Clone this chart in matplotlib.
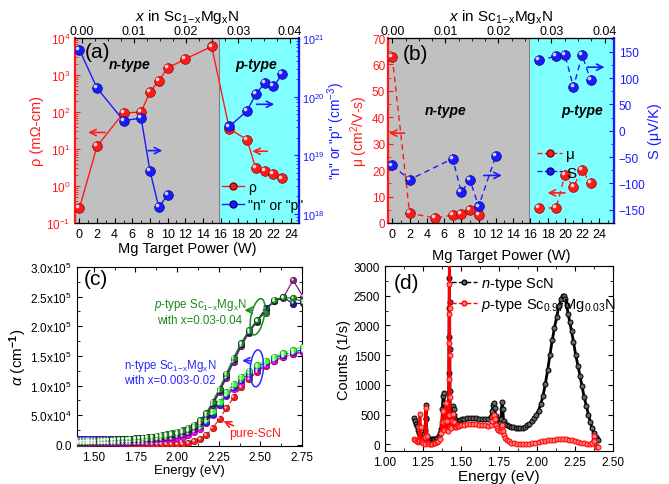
import matplotlib
matplotlib.use("Agg")
import matplotlib.pyplot as plt
import matplotlib.transforms as mtransforms
from matplotlib.colors import to_rgb
from matplotlib.lines import Line2D
from matplotlib.patches import Ellipse
from matplotlib.ticker import MultipleLocator, FixedLocator, FormatStrFormatter

plt.rcParams['font.family'] = ['Liberation Sans', 'DejaVu Sans']
plt.rcParams['mathtext.fontset'] = 'custom'
plt.rcParams['mathtext.rm'] = 'Liberation Sans'
plt.rcParams['mathtext.it'] = 'Liberation Sans:italic'
plt.rcParams['mathtext.bf'] = 'Liberation Sans:bold'
plt.rcParams['xtick.direction'] = 'in'
plt.rcParams['ytick.direction'] = 'in'
plt.rcParams['xtick.labelsize'] = 8.5
plt.rcParams['ytick.labelsize'] = 8.5

# ---- (a) resistivity and carrier density vs Mg target power
power_rho = [0, 2, 5, 7, 8, 9, 10, 12, 15, 17, 19, 20, 21, 22, 23]
rho = [0.25, 12, 94, 100, 350, 700, 1550, 2700, 5900, 35, 18, 3.0, 2.6, 2.1, 1.6]
power_n_lo = [0, 2, 5, 7, 8, 9, 10]
carrier_lo = [6.3e20, 1.4e20, 3.9e19, 4.3e19, 5.4e18, 1.3e18, 2.1e18]
power_n_hi = [17, 19, 20, 21, 22, 23]
carrier_hi = [3.1e19, 5.7e19, 1.1e20, 1.7e20, 1.5e20, 2.4e20]

# ---- (b) mobility and Seebeck coefficient
power_mu_lo = [0, 2, 5, 7, 8, 9, 10]
mu_lo = [62.7, 3.7, 1.9, 3.0, 3.4, 4.8, 3.0]
power_mu_hi = [17, 19, 20, 21, 22, 23]
mu_hi = [5.7, 5.7, 18.0, 13.7, 20.1, 15.0]
power_S_lo = [0, 2, 7, 8, 9, 10, 12]
S_lo = [-66, -93, -53, -117, -93, -144, -48]
power_S_hi = [17, 19, 20, 21, 22, 23]
S_hi = [134, 142, 145, 83, 144, 96]

x_ticks = [0.00, 0.01, 0.02, 0.03, 0.04]

# ---- (c) absorption coefficient, values in 1e4 cm^-1
energy_abs = [1.393, 1.409, 1.425, 1.442, 1.459, 1.476, 1.494, 1.512, 1.531, 1.550,
              1.570, 1.590, 1.610, 1.632, 1.653, 1.676, 1.699, 1.722, 1.747, 1.771,
              1.797, 1.824, 1.851, 1.879, 1.908, 1.938, 1.968, 2.000, 2.033, 2.067,
              2.102, 2.138, 2.175, 2.214, 2.255, 2.296, 2.340, 2.385, 2.431, 2.480,
              2.531, 2.583, 2.638, 2.696, 2.756]
alpha_pure = [0.1, 0.1, 0.1, 0.1, 0.1, 0.1, 0.1, 0.1, 0.1, 0.1,
              0.1, 0.1, 0.1, 0.1, 0.1, 0.1, 0.1, 0.1, 0.1, 0.1,
              0.1, 0.1, 0.1, 0.1, 0.1, 0.1, 0.1, 0.1, 0.15, 0.3,
              0.6, 1.0, 1.6, 2.8, 4.4, 6.2, 8.0, 9.7, 11.1, 12.3,
              13.3, 14.1, 14.8, 15.3, 15.6]
alpha_magenta = [0.2, 0.2, 0.2, 0.2, 0.2, 0.2, 0.2, 0.2, 0.2, 0.2,
                 0.25, 0.25, 0.3, 0.3, 0.3, 0.35, 0.35, 0.4, 0.4, 0.45,
                 0.5, 0.55, 0.6, 0.7, 0.8, 0.9, 1.0, 1.2, 1.4, 1.7,
                 2.1, 2.6, 3.6, 5.1, 6.8, 8.2, 9.4, 10.5, 11.6, 12.6,
                 13.4, 14.2, 14.9, 15.4, 15.7]
alpha_blue = [1.0, 1.0, 1.0, 1.0, 0.95, 0.95, 0.95, 0.9, 0.9, 0.9,
              0.9, 0.9, 0.9, 0.9, 0.9, 0.95, 0.95, 1.0, 1.0, 1.05,
              1.1, 1.15, 1.2, 1.3, 1.4, 1.5, 1.6, 1.75, 1.95, 2.2,
              2.6, 3.1, 3.9, 5.2, 6.8, 8.4, 9.8, 11.0, 12.0, 13.0,
              13.9, 14.6, 15.2, 15.7, 16.0]
alpha_lime = [0.5, 0.5, 0.5, 0.55, 0.55, 0.55, 0.6, 0.6, 0.6, 0.65,
              0.65, 0.7, 0.7, 0.75, 0.8, 0.85, 0.9, 0.95, 1.0, 1.05,
              1.1, 1.2, 1.3, 1.4, 1.5, 1.6, 1.75, 1.9, 2.1, 2.4,
              2.8, 3.4, 4.3, 5.7, 7.3, 8.9, 10.3, 11.5, 12.5, 13.4,
              14.2, 14.9, 15.5, 16.0, 16.5]
alpha_purple = [0.2, 0.2, 0.2, 0.2, 0.2, 0.2, 0.25, 0.25, 0.25, 0.3,
                0.3, 0.3, 0.35, 0.35, 0.4, 0.4, 0.45, 0.5, 0.55, 0.6,
                0.7, 0.8, 0.9, 1.0, 1.1, 1.25, 1.4, 1.6, 1.9, 2.3,
                2.9, 3.7, 4.8, 6.7, 8.9, 11.3, 14.0, 16.6, 18.9, 20.8,
                22.8, 24.3, 24.8, 27.8, 25.0]
alpha_navy = [0.6, 0.6, 0.6, 0.6, 0.6, 0.6, 0.6, 0.65, 0.65, 0.7,
              0.7, 0.75, 0.75, 0.8, 0.85, 0.9, 0.95, 1.0, 1.05, 1.1,
              1.15, 1.2, 1.3, 1.4, 1.5, 1.65, 1.8, 2.0, 2.3, 2.7,
              3.2, 4.0, 5.1, 7.0, 9.2, 11.7, 14.4, 17.0, 19.1, 20.9,
              23.0, 24.2, 24.9, 23.8, 23.9]
alpha_green = [0.5, 0.5, 0.55, 0.55, 0.6, 0.6, 0.65, 0.65, 0.7, 0.7,
               0.75, 0.8, 0.8, 0.85, 0.9, 0.95, 1.0, 1.05, 1.1, 1.15,
               1.2, 1.3, 1.4, 1.55, 1.7, 1.85, 2.0, 2.2, 2.5, 2.9,
               3.4, 4.2, 5.3, 7.3, 9.5, 12.0, 14.7, 17.2, 19.3, 21.0,
               22.3, 24.5, 24.9, 24.7, 24.2]
alpha_ticks = [0, 5e4, 1e5, 1.5e5, 2e5, 2.5e5, 3e5]
alpha_tick_labels = ["0.0", "5.0x10$^4$", "1.0x10$^5$", "1.5x10$^5$",
                     "2.0x10$^5$", "2.5x10$^5$", "3.0x10$^5$"]

# ---- (d) photoluminescence
pl_n_energy = [1.193, 1.198, 1.203, 1.208, 1.215, 1.222, 1.230, 1.238, 1.245, 1.252,
               1.258, 1.263, 1.267, 1.270, 1.273, 1.276, 1.283, 1.290, 1.298, 1.306,
               1.315, 1.325, 1.335, 1.345, 1.355, 1.362, 1.368, 1.373, 1.378, 1.382,
               1.386, 1.390, 1.395, 1.400, 1.405, 1.410, 1.414, 1.418, 1.420, 1.421,
               1.422, 1.423, 1.424, 1.425, 1.426, 1.427, 1.430, 1.436, 1.442, 1.447,
               1.451, 1.456, 1.462, 1.470, 1.478, 1.486, 1.495, 1.505, 1.520, 1.540,
               1.560, 1.580, 1.600, 1.620, 1.640, 1.660, 1.680, 1.695, 1.705, 1.712,
               1.717, 1.722, 1.728, 1.735, 1.745, 1.755, 1.762, 1.767, 1.771, 1.775,
               1.780, 1.790, 1.800, 1.815, 1.830, 1.845, 1.860, 1.875, 1.890, 1.905,
               1.920, 1.935, 1.950, 1.965, 1.980, 1.995, 2.010, 2.025, 2.040, 2.055,
               2.070, 2.085, 2.100, 2.115, 2.130, 2.145, 2.160, 2.170, 2.178, 2.186,
               2.195, 2.205, 2.215, 2.228, 2.240, 2.255, 2.270, 2.283, 2.295, 2.310,
               2.325, 2.338, 2.350, 2.362, 2.375, 2.385, 2.393, 2.400]
pl_n_counts = [450, 400, 350, 310, 250, 190, 140, 90, 60, 110,
               180, 240, 450, 660, 420, 140, 100, 90, 85, 85,
               90, 95, 100, 110, 150, 200, 260, 330, 600, 820,
               870, 700, 560, 500, 430, 380, 350, 600, 1200, 1800,
               2300, 2800, 3300, 2400, 1600, 900, 480, 450, 520, 640,
               600, 500, 430, 390, 380, 390, 410, 420, 430, 440,
               445, 445, 440, 430, 425, 420, 430, 460, 560, 660,
               690, 620, 480, 410, 380, 370, 420, 600, 720, 600,
               400, 340, 320, 310, 300, 290, 285, 280, 280, 285,
               300, 320, 350, 390, 440, 500, 570, 680, 820, 1020,
               1250, 1500, 1750, 1960, 2150, 2330, 2450, 2500, 2490, 2440,
               2340, 2200, 2060, 1900, 1720, 1500, 1320, 1150, 990, 800,
               640, 500, 380, 280, 190, 130, 90, 70]
pl_p_energy = [1.193, 1.200, 1.208, 1.215, 1.222, 1.226, 1.230, 1.234, 1.238, 1.245,
               1.252, 1.260, 1.265, 1.270, 1.274, 1.280, 1.290, 1.300, 1.310, 1.320,
               1.330, 1.340, 1.350, 1.360, 1.368, 1.375, 1.380, 1.384, 1.390, 1.395,
               1.400, 1.405, 1.410, 1.415, 1.418, 1.420, 1.421, 1.422, 1.423, 1.424,
               1.425, 1.426, 1.427, 1.430, 1.436, 1.442, 1.447, 1.452, 1.458, 1.465,
               1.472, 1.480, 1.490, 1.500, 1.520, 1.540, 1.560, 1.580, 1.600, 1.620,
               1.640, 1.660, 1.680, 1.695, 1.705, 1.712, 1.717, 1.722, 1.728, 1.735,
               1.745, 1.755, 1.762, 1.767, 1.771, 1.775, 1.780, 1.790, 1.800, 1.815,
               1.830, 1.850, 1.870, 1.890, 1.910, 1.930, 1.950, 1.970, 1.990, 2.010,
               2.030, 2.050, 2.070, 2.090, 2.110, 2.130, 2.150, 2.170, 2.190, 2.210,
               2.230, 2.250, 2.270, 2.290, 2.310, 2.330, 2.350, 2.365, 2.372, 2.378,
               2.385, 2.393, 2.400]
pl_p_counts = [90, 70, 50, 40, 60, 300, 520, 300, 60, 40,
               20, 10, 120, 620, 150, 20, 10, 10, 15, 20,
               30, 40, 60, 100, 200, 380, 560, 380, 250, 400,
               690, 400, 250, 220, 500, 1100, 1700, 2200, 2700, 3300,
               2300, 1500, 800, 300, 280, 400, 520, 380, 300, 300,
               320, 310, 310, 320, 330, 340, 345, 345, 340, 335,
               330, 320, 310, 320, 400, 480, 500, 430, 330, 280,
               250, 230, 220, 300, 330, 220, 160, 110, 80, 50,
               30, 20, 10, 5, 0, 0, 10, 20, 30, 40,
               50, 60, 70, 75, 80, 85, 90, 95, 90, 80,
               70, 55, 40, 30, 20, 10, 5, 20, 150, 60,
               -20, -40, -50]

RED = '#ff1a1a'
BLUE = '#1a1aff'
GRAY = '#c0c0c0'
CYAN = '#80ffff'
SUB = r'Sc$_{\mathrm{1\!-\!x}}$Mg$_{\mathrm{x}}$N'

fig = plt.figure(figsize=(6.69, 4.85), dpi=100)


def box(l, t, r, b):
    return [l / 669, 1 - b / 485, (r - l) / 669, (b - t) / 485]


def balls(ax, x, y, color, ms, ls='-', lw=1.0, z=3):
    edge = tuple(c * 0.5 for c in to_rgb(color))
    ax.plot(x, y, color=color, ls=ls, lw=lw, marker='o', ms=ms, mfc=color,
            mec=edge, mew=0.5, zorder=z)
    shine = mtransforms.offset_copy(ax.transData, fig=fig, x=-0.2 * ms,
                                    y=0.2 * ms, units='points')
    ax.plot(x, y, ls='none', marker='o', ms=0.38 * ms, mfc='white', mec='none',
            alpha=0.8, transform=shine, zorder=z + 0.1)


def arrow(ax, tail, tip, color):
    ax.annotate('', xy=tip, xytext=tail,
                arrowprops=dict(arrowstyle='->', color=color, lw=1.2,
                                mutation_scale=11, shrinkA=0, shrinkB=0))


def style_twins(ax, axR, axT, xmin, xmax, off, per):
    ax.set_xlim(xmin, xmax)
    ax.xaxis.set_major_locator(MultipleLocator(2))
    ax.xaxis.set_minor_locator(MultipleLocator(1))
    ax.tick_params(axis='x', labelsize=9)
    ax.spines['left'].set_color(RED)
    ax.spines['left'].set_linewidth(1.6)
    ax.tick_params(axis='y', which='both', colors=RED)
    axR.spines['right'].set_color(BLUE)
    axR.spines['right'].set_linewidth(1.6)
    axR.spines['left'].set_visible(False)
    axR.tick_params(axis='y', which='both', colors=BLUE)
    axT.spines['left'].set_visible(False)
    axT.spines['right'].set_visible(False)
    axT.set_xlim((xmin - off) / per, (xmax - off) / per)
    axT.xaxis.set_major_locator(FixedLocator(x_ticks))
    axT.xaxis.set_minor_locator(MultipleLocator(0.0025))
    axT.set_xticklabels(['%.2f' % v for v in x_ticks])
    axT.tick_params(axis='x', pad=1, labelsize=9)
    axT.set_xlabel(r'$x$ in ' + SUB, fontsize=11, labelpad=3)
    ax.axvspan(xmin, 15.8, color=GRAY, zorder=0, lw=0)
    ax.axvspan(15.8, xmax, color=CYAN, zorder=0, lw=0)
    ax.axvline(15.8, color='#808080', lw=0.8, zorder=0.5)


# ================= panel (a)
axA = fig.add_axes(box(75, 39, 299, 224))
axAR = axA.twinx()
axAT = axA.twiny()
style_twins(axA, axAR, axAT, -0.5, 24.9, 0.3, 590)
axA.set_yscale('log')
axA.set_ylim(1e-1, 1e4)
axAR.set_yscale('log')
axAR.set_ylim(7e17, 1e21)
axAR.tick_params(axis='y', labelsize=7.8, pad=2)
balls(axA, power_rho, rho, RED, 7)
balls(axAR, power_n_lo, carrier_lo, BLUE, 7)
balls(axAR, power_n_hi, carrier_hi, BLUE, 7)
axA.set_ylabel(u'\u03c1 (m\u03a9-cm)', color=RED, fontsize=10.5, labelpad=1)
axAR.set_ylabel('"n" or "p" (cm$^{-3}$)', color=BLUE, fontsize=9.8)
axAR.yaxis.set_label_coords(1.12, 0.5)
axA.set_xlabel('Mg Target Power (W)', fontsize=10.5, labelpad=1)
arrow(axA, (2.9, 28), (1.0, 28), RED)
arrow(axA, (21.3, 8.7), (19.6, 8.7), RED)
arrow(axAR, (7.8, 1.2e19), (9.4, 1.2e19), BLUE)
arrow(axAR, (20.1, 7.4e19), (22.1, 7.4e19), BLUE)
axA.text(0.1, 0.925, '(a)', transform=axA.transAxes, fontsize=15, ha='center', va='center')
axA.text(0.245, 0.86, 'n-type', transform=axA.transAxes, fontsize=10, fontweight='bold',
         style='italic', ha='center', va='center')
axA.text(0.81, 0.86, 'p-type', transform=axA.transAxes, fontsize=10, fontweight='bold',
         style='italic', ha='center', va='center')
hA = [Line2D([], [], color=RED, marker='o', ms=5, mfc=RED, mec='#800000', lw=1),
      Line2D([], [], color=BLUE, marker='o', ms=5, mfc=BLUE, mec='#000080', lw=1)]
axAR.legend(hA, [u'\u03c1', '"n" or "p"'], loc='lower left', bbox_to_anchor=(0.6, -0.01),
            frameon=False, fontsize=10, handlelength=1.6, handletextpad=0.3,
            labelspacing=0.3)

# ================= panel (b)
axB = fig.add_axes(box(388, 39, 614, 224))
axBR = axB.twinx()
axBT = axB.twiny()
style_twins(axB, axBR, axBT, -0.5, 25.7, 0.0, 615)
axB.set_ylim(0, 70)
axB.yaxis.set_major_locator(MultipleLocator(10))
axB.yaxis.set_minor_locator(MultipleLocator(5))
axB.tick_params(axis='y', pad=2)
axBR.set_ylim(-175.5, 176.5)
axBR.yaxis.set_major_locator(MultipleLocator(50))
axBR.yaxis.set_minor_locator(MultipleLocator(25))
dash = (0, (4, 3))
balls(axB, power_mu_lo, mu_lo, RED, 7, ls=dash)
balls(axB, power_mu_hi, mu_hi, RED, 7, ls=dash)
balls(axBR, power_S_lo, S_lo, BLUE, 7, ls=dash)
balls(axBR, power_S_hi, S_hi, BLUE, 7, ls=dash)
axB.set_ylabel(u'\u03bc (cm$^2$/V-s)', color=RED, fontsize=10)
axB.yaxis.set_label_coords(-0.078, 0.5)
axBR.set_ylabel(u'S (\u03bcV/K)', color=BLUE, fontsize=10.5, labelpad=2)
axB.set_xlabel('Mg Target Power (W)', fontsize=10.5, labelpad=6)
arrow(axB, (1.4, 34), (-0.4, 34), RED)
arrow(axB, (20.0, 11.4), (18.0, 11.4), RED)
arrow(axBR, (10.6, -85), (12.7, -85), BLUE)
arrow(axBR, (22.6, 121), (24.6, 121), BLUE)
axB.text(0.12, 0.915, '(b)', transform=axB.transAxes, fontsize=15, ha='center', va='center')
axB.text(0.255, 0.61, 'n-type', transform=axB.transAxes, fontsize=10, fontweight='bold',
         style='italic', ha='center', va='center')
axB.text(0.86, 0.61, 'p-type', transform=axB.transAxes, fontsize=10, fontweight='bold',
         style='italic', ha='center', va='center')
hB = [Line2D([], [], color=RED, ls='--', marker='o', ms=5, mfc=RED, mec='#800000', lw=1),
      Line2D([], [], color=BLUE, ls='--', marker='o', ms=5, mfc=BLUE, mec='#000080', lw=1)]
axBR.legend(hB, [u'\u03bc', 'S'], loc='lower left', bbox_to_anchor=(0.6, 0.16),
            frameon=False, fontsize=11, handlelength=1.6, handletextpad=0.3,
            labelspacing=0.3)

# ================= panel (c)
axC = fig.add_axes(box(77, 268, 302, 447))
axC.set_xlim(1.4, 2.75)
axC.set_ylim(-2000, 3.0e5)
axC.xaxis.set_major_locator(MultipleLocator(0.25))
axC.xaxis.set_minor_locator(MultipleLocator(0.125))
axC.yaxis.set_major_locator(FixedLocator(alpha_ticks))
axC.set_yticklabels(alpha_tick_labels)
axC.yaxis.set_minor_locator(MultipleLocator(2.5e4))
axC.tick_params(which='both', top=True, right=True)
axC.xaxis.set_major_formatter(FormatStrFormatter('%.2f'))
series_c = [(alpha_pure, '#ff1a1a', '--'), (alpha_magenta, '#ff00ff', '--'),
            (alpha_blue, '#2a2aff', '--'), (alpha_lime, '#33ff33', '--'),
            (alpha_purple, '#8b1a8b', '-'), (alpha_navy, '#1a1a8a', '-'),
            (alpha_green, '#1a8a1a', '-')]
for vals, col, ls in series_c:
    balls(axC, energy_abs, [v * 1e4 for v in vals], col, 4.6, ls=ls, lw=0.9)
axC.set_xlabel('Energy (eV)', fontsize=9.5, labelpad=1)
axC.set_ylabel(r'$\alpha$ (cm$^{\mathbf{-1}}$)', fontsize=11, labelpad=1)
axC.text(0.086, 0.935, '(c)', transform=axC.transAxes, fontsize=15, ha='center', va='center')
axC.text(2.138, 2.26e5, '$p$-type ' + SUB + '\nwith x=0.03-0.04',
         color='#1a8a1a', fontsize=8.3, ha='center', va='center', linespacing=1.15)
axC.text(1.958, 1.24e5, 'n-type ' + SUB + '\nwith x=0.003-0.02',
         color='#2a2aff', fontsize=8.3, ha='center', va='center', linespacing=1.15)
axC.text(2.31, 2.06e4, 'pure-ScN', color='#ff1a1a', fontsize=8.8, ha='left', va='center')
for cx, cy, col, ang in [(2.483, 2.16e5, '#1a8a1a', -12), (2.479, 1.29e5, '#2a2aff', -4)]:
    tr = fig.dpi_scale_trans + mtransforms.ScaledTranslation(cx, cy, axC.transData)
    axC.add_patch(Ellipse((0, 0), 0.13, 0.37, angle=ang, fill=False, ec=col, lw=1.1,
                          transform=tr, zorder=6))
arrow(axC, (2.449, 2.27e5), (2.405, 2.27e5), '#1a8a1a')
arrow(axC, (2.44, 1.42e5), (2.39, 1.42e5), '#2a2aff')
arrow(axC, (2.339, 3.2e4), (2.279, 4.0e4), '#ff1a1a')

# ================= panel (d)
axD = fig.add_axes(box(385, 267, 613, 452))
axD.set_xlim(1.0, 2.5)
axD.set_ylim(-110, 3000)
axD.xaxis.set_major_locator(MultipleLocator(0.25))
axD.xaxis.set_minor_locator(MultipleLocator(0.125))
axD.yaxis.set_major_locator(MultipleLocator(500))
axD.yaxis.set_minor_locator(MultipleLocator(250))
axD.xaxis.set_major_formatter(FormatStrFormatter('%.2f'))
axD.tick_params(which='both', top=True, right=True)
axD.plot(pl_n_energy, pl_n_counts, color='black', lw=2.0, marker='o', ms=3.6,
         mfc='#666666', mec='black', mew=0.7, zorder=3)
axD.plot(pl_p_energy, pl_p_counts, color='red', lw=2.0, marker='o', ms=3.6,
         mfc='#ff8080', mec='red', mew=0.7, zorder=4)
axD.set_xlabel('Energy (eV)', fontsize=11, labelpad=1)
axD.set_ylabel('Counts (1/s)', fontsize=10.5, labelpad=2)
axD.text(0.095, 0.91, '(d)', transform=axD.transAxes, fontsize=15, ha='center', va='center')
hD = [Line2D([], [], color='black', ls='--', lw=1, marker='o', ms=3.4, mfc='#666666', mec='black'),
      Line2D([], [], color='red', ls='--', lw=1, marker='o', ms=3.4, mfc='#ff8080', mec='red')]
axD.legend(hD, ['$n$-type ScN', '$p$-type Sc$_{0.97}$Mg$_{0.03}$N'], loc='upper left',
           bbox_to_anchor=(0.23, 1.02), frameon=False, fontsize=10.5, handlelength=1.8,
           handletextpad=0.3, labelspacing=0.25)

fig.savefig('out.png', dpi=100)
